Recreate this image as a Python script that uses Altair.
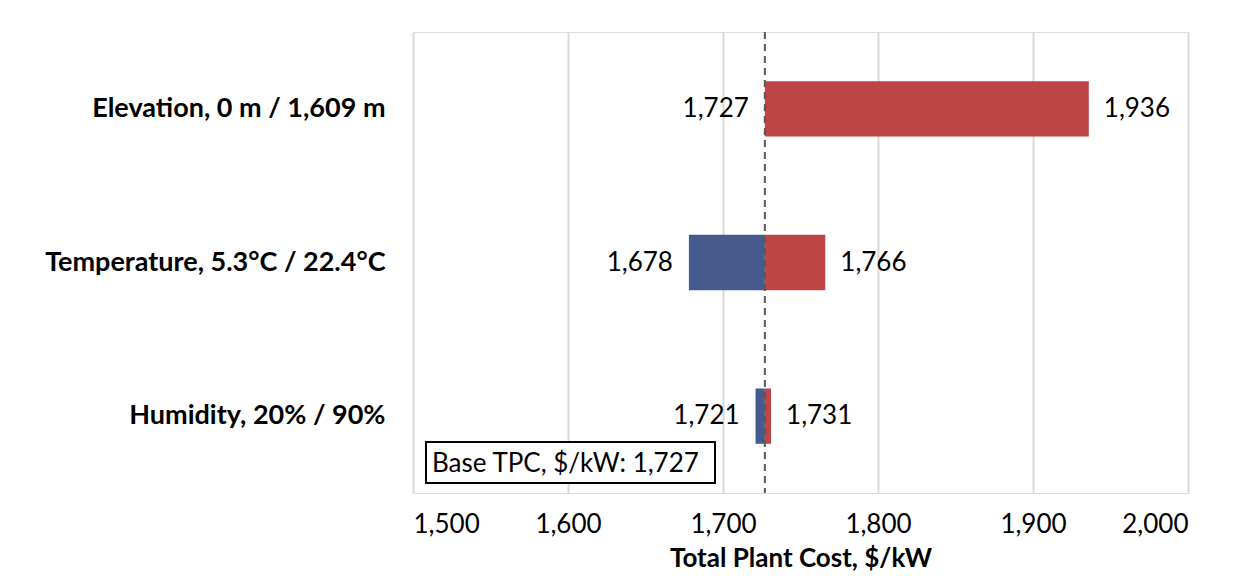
import altair as alt
import pandas as pd

categories = ["Elevation, 0 m / 1,609 m", "Temperature, 5.3°C / 22.4°C", "Humidity, 20% / 90%"]
low_values = [1727, 1678, 1721]
high_values = [1936, 1766, 1731]
base_value = 1727
x_ticks = [1500, 1600, 1700, 1800, 1900, 2000]
box_text = "Base TPC, $/kW: 1,727"

FONT = "Lato"
RED = "#BE4546"
BLUE = "#465A8D"
VAL_SIZE = 26

df = pd.DataFrame({
    "cat": categories,
    "low": low_values,
    "high": high_values,
    "base": [base_value] * len(categories),
})

xscale = alt.Scale(domain=[1500, 2000], nice=False, zero=False)
yscale = alt.Scale(paddingInner=0.64, paddingOuter=0.32)

base = alt.Chart(df)

y_enc = alt.Y("cat:N", sort=categories, scale=yscale,
              axis=alt.Axis(title=None, labelFont=FONT, labelFontSize=27, labelFontWeight="bold",
                            labelColor="#000000", labelPadding=28, ticks=False, domain=False,
                            labelLimit=400))

blue_bars = base.mark_bar(color=BLUE).encode(
    x=alt.X("low:Q", scale=xscale,
            axis=alt.Axis(values=x_ticks, format=",d", title="Total Plant Cost, $/kW",
                          titleFont=FONT, titleFontSize=VAL_SIZE, titleFontWeight="bold", titleColor="#000000",
                          titlePadding=8, labelFont=FONT, labelFontSize=VAL_SIZE, labelColor="#000000",
                          labelPadding=18, ticks=False, domain=False, grid=True,
                          gridColor="#D9D9D9", gridWidth=2)),
    x2="base:Q",
    y=y_enc,
)

red_bars = base.mark_bar(color=RED).encode(
    x=alt.X("base:Q", scale=xscale),
    x2="high:Q",
    y=alt.Y("cat:N", sort=categories, scale=yscale),
)

low_labels = base.mark_text(align="right", baseline="middle", dx=-16, font=FONT,
                            fontSize=VAL_SIZE, color="#000000").encode(
    x=alt.X("low:Q", scale=xscale),
    y=alt.Y("cat:N", sort=categories, scale=yscale),
    text=alt.Text("low:Q", format=",d"),
)

high_labels = base.mark_text(align="left", baseline="middle", dx=15, font=FONT,
                             fontSize=VAL_SIZE, color="#000000").encode(
    x=alt.X("high:Q", scale=xscale),
    y=alt.Y("cat:N", sort=categories, scale=yscale),
    text=alt.Text("high:Q", format=",d"),
)

base_rule = alt.Chart(pd.DataFrame({"b": [base_value]})).mark_rule(
    color="#595959", strokeWidth=2, strokeDash=[7, 5]).encode(
    x=alt.X("b:Q", scale=xscale),
)

box_df = pd.DataFrame({"t": [box_text]})
box = alt.Chart(box_df).mark_rect(fill="white", stroke="#000000", strokeWidth=2).encode(
    x=alt.value(13), x2=alt.value(302), y=alt.value(410), y2=alt.value(451))
box_label = alt.Chart(box_df).mark_text(align="left", baseline="middle", font=FONT,
                                         fontSize=VAL_SIZE, color="#000000").encode(
    x=alt.value(19), y=alt.value(432), text="t:N")

chart = alt.layer(blue_bars, red_bars, base_rule, low_labels, high_labels, box, box_label).properties(
    width=775, height=461,
    autosize=alt.AutoSizeParams(type="none"),
    padding={"left": 405, "top": 24, "right": 30, "bottom": 80},
).configure_view(stroke="#D9D9D9", strokeWidth=2).configure(background="white")

chart.save("out.html", embed_options={"renderer": "svg", "actions": False})
